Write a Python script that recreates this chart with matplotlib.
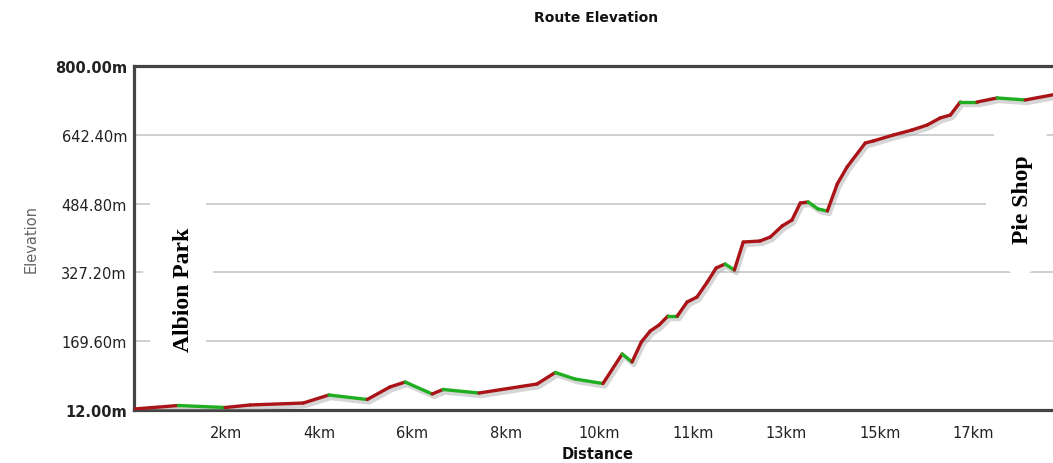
import numpy as np
import matplotlib
matplotlib.use('Agg')
import matplotlib.pyplot as plt
from matplotlib.collections import LineCollection
from matplotlib.patches import Ellipse
import matplotlib.transforms as mtransforms

plt.rcParams['font.family'] = ['DejaVu Sans']

# elevation profile
dist_km = [0.04, 0.94, 1.89, 2.40, 3.48, 4.00, 4.78, 5.24, 5.55, 6.10, 6.32, 7.05,
           8.23, 8.60, 9.00, 9.57, 9.96, 10.16, 10.35, 10.53, 10.71, 10.89, 11.08,
           11.28, 11.48, 11.69, 11.87, 12.05, 12.24, 12.42, 12.76, 12.97, 13.21,
           13.41, 13.58, 13.74, 13.94, 14.13, 14.33, 14.53, 14.90, 15.06, 15.47,
           15.85, 16.16, 16.42, 16.63, 16.83, 17.17, 17.58, 18.15, 18.95]
elev_m = [14.3, 22.3, 17.7, 23.5, 28.0, 46.4, 36.1, 64.7, 76.1, 48.7, 59.0, 50.9,
          71.6, 97.9, 83.0, 72.7, 140.3, 122.0, 167.8, 193.0, 206.7, 227.3, 227.3,
          259.4, 270.8, 305.2, 337.3, 346.4, 332.7, 396.8, 399.1, 408.3, 433.5,
          447.2, 486.2, 488.5, 472.4, 467.9, 529.7, 568.7, 623.6, 628.2, 641.9,
          653.4, 664.9, 680.9, 687.8, 717.5, 717.5, 726.8, 722.2, 739.0]

y_ticks = [12.0, 169.6, 327.2, 484.8, 642.4, 800.0]
x_tick_pos = [1.9 * k for k in range(1, 10)]
x_tick_labels = ['2km', '4km', '6km', '8km', '10km', '11km', '13km', '15km', '17km']

fig = plt.figure(figsize=(10.53, 4.64), dpi=100)
ax = fig.add_axes([134 / 1053, 53 / 464, 0.88, 344 / 464])

x = np.array(dist_km)
y = np.array(elev_m)

# shadow under the line
shadow = mtransforms.offset_copy(ax.transData, fig=fig, x=2, y=-3, units='dots')
ax.plot(x, y, color='#999999', lw=3.2, alpha=0.4, transform=shadow,
        solid_capstyle='round', solid_joinstyle='round', zorder=3)

# red going up, green going down
pts = np.column_stack([x, y]).reshape(-1, 1, 2)
segs = np.concatenate([pts[:-1], pts[1:]], axis=1)
cols = ['#aa1418' if y[i + 1] > y[i] else '#1fae1f' for i in range(len(y) - 1)]
lc = LineCollection(segs, colors=cols, linewidths=2.4, capstyle='round',
                    joinstyle='round', zorder=4)
ax.add_collection(lc)

ax.set_xlim(0.04, 18.87)
ax.set_ylim(12, 800)

ax.set_yticks(y_ticks)
ax.set_yticklabels(['%.2fm' % v for v in y_ticks])
for i, lab in enumerate(ax.get_yticklabels()):
    if i in (0, len(y_ticks) - 1):
        lab.set_fontweight('bold')
        lab.set_color('black')
ax.set_xticks(x_tick_pos)
ax.set_xticklabels(x_tick_labels)
ax.tick_params(axis='both', length=0, labelsize=10.5, colors='#222222')
ax.tick_params(axis='y', pad=5)
ax.tick_params(axis='x', pad=11)

ax.yaxis.grid(True, color='#cccccc', lw=1.3)
ax.set_axisbelow(True)
# no grid on the edges
for gl in ax.yaxis.get_gridlines()[:1] + ax.yaxis.get_gridlines()[-1:]:
    gl.set_visible(False)

for side in ['left', 'top', 'bottom']:
    ax.spines[side].set_color('#444444')
    ax.spines[side].set_linewidth(2.3)
ax.spines['right'].set_visible(False)

ax.set_ylabel('Elevation', fontsize=10.5, color='#666666', labelpad=12)
ax.set_xlabel('Distance', fontsize=10.5, fontweight='bold', color='#111111', labelpad=4)
fig.text(596 / 1053, 1 - 18 / 464, 'Route Elevation', ha='center', va='center',
         fontsize=10, fontweight='bold', color='#111111')

# white blobs behind the place names
ax.add_patch(Ellipse((0.935, 328), 1.42, 527, fc='white', ec='none', zorder=2))
ax.add_patch(Ellipse((18.05, 514), 1.42, 389, fc='white', ec='none', zorder=2))
ax.text(1.04, 289, 'Albion Park', rotation=90, ha='center', va='center',
        family='Liberation Serif', fontweight='bold', fontsize=17, zorder=5)
ax.text(18.09, 495, 'Pie Shop', rotation=90, ha='center', va='center',
        family='Liberation Serif', fontweight='bold', fontsize=17, zorder=5)

fig.savefig('out.png', dpi=100)
